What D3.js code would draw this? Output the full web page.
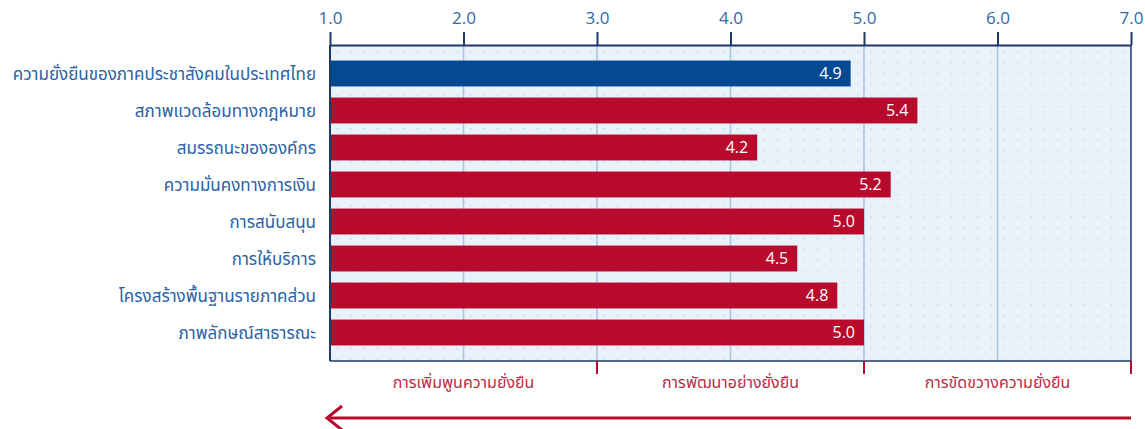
<!DOCTYPE html>
<html>
<head>
<meta charset="utf-8">
<script src="https://cdn.jsdelivr.net/npm/d3@7"></script>
<style>
  body { margin: 0; background: #fff; }
  svg { display: block; font-family: Tahoma, "Noto Sans Thai", "Noto Sans", sans-serif; }
</style>
</head>
<body>
<svg id="chart" width="1145" height="429"></svg>
<script>
// data
const categories = [
  "ความยั่งยืนของภาคประชาสังคมในประเทศไทย",
  "สภาพแวดล้อมทางกฎหมาย",
  "สมรรถนะขององค์กร",
  "ความมั่นคงทางการเงิน",
  "การสนับสนุน",
  "การให้บริการ",
  "โครงสร้างพื้นฐานรายภาคส่วน",
  "ภาพลักษณ์สาธารณะ"
];
const scores = [4.9, 5.4, 4.2, 5.2, 5.0, 4.5, 4.8, 5.0];
const tickValues = [1, 2, 3, 4, 5, 6, 7];
const zoneBreaks = [1, 3, 5, 7];
const zoneLabels = ["การเพิ่มพูนความยั่งยืน", "การพัฒนาอย่างยั่งยืน", "การขัดขวางความยั่งยืน"];

const blue = "#054a91", red = "#b80a2c", navy = "#1f3864";
const plotTop = 45, plotBottom = 361, plotLeft = 330, plotRight = 1131;

const svg = d3.select("#chart");

let x = d3.scaleLinear().domain([1, 7]).range([plotLeft, plotRight]);
let y = d3.scaleBand().domain(categories).range([plotTop, plotBottom])
  .paddingInner(0.3).paddingOuter(0.42);

// dotted background pattern
let step = x(1.1) - x(1);
let defs = svg.append("defs");
let pat = defs.append("pattern")
  .attr("id", "dots")
  .attr("patternUnits", "userSpaceOnUse")
  .attr("x", x(1) + step / 2)
  .attr("y", plotTop + 6)
  .attr("width", step)
  .attr("height", 11);
pat.append("rect").attr("width", step).attr("height", 11).attr("fill", "#e9f1fb");
pat.append("circle").attr("cx", 0.8).attr("cy", 0.8).attr("r", 0.8).attr("fill", "#c3cfdd");

svg.append("rect")
  .attr("x", plotLeft).attr("y", plotTop)
  .attr("width", plotRight - plotLeft).attr("height", plotBottom - plotTop)
  .attr("fill", "url(#dots)");

// vertical gridlines
svg.append("g").selectAll("line")
  .data(tickValues.slice(1, -1))
  .join("line")
  .attr("x1", d => x(d)).attr("x2", d => x(d))
  .attr("y1", plotTop).attr("y2", plotBottom)
  .attr("stroke", "#adc6e2").attr("stroke-width", 1.6);

// top axis
let axis = svg.append("g")
  .attr("transform", `translate(0,${plotTop})`)
  .call(d3.axisTop(x).tickValues(tickValues).tickFormat(d3.format(".1f")).tickSize(13).tickSizeOuter(0));
axis.select(".domain").attr("stroke", navy).attr("stroke-width", 2);
axis.selectAll(".tick line").attr("stroke", navy).attr("stroke-width", 2);
axis.selectAll(".tick text")
  .attr("fill", "#2f6aa6").attr("font-size", 17).attr("dy", "-0.3em")
  .attr("font-family", "'Open Sans', sans-serif");

// frame
svg.append("line").attr("x1", plotLeft).attr("x2", plotLeft).attr("y1", plotTop).attr("y2", plotBottom)
  .attr("stroke", navy).attr("stroke-width", 2);
svg.append("line").attr("x1", plotRight).attr("x2", plotRight).attr("y1", plotTop).attr("y2", plotBottom)
  .attr("stroke", navy).attr("stroke-width", 1.5);
svg.append("line").attr("x1", plotLeft).attr("x2", plotRight).attr("y1", plotBottom).attr("y2", plotBottom)
  .attr("stroke", navy).attr("stroke-width", 1.5);

// bars
svg.append("g").selectAll("rect")
  .data(scores)
  .join("rect")
  .attr("x", x(1) + 1)
  .attr("y", (d, i) => y(categories[i]))
  .attr("width", d => x(d) - x(1) - 1)
  .attr("height", y.bandwidth())
  .attr("fill", (d, i) => i == 0 ? blue : red);

// value labels
svg.append("g").selectAll("text")
  .data(scores)
  .join("text")
  .attr("x", d => x(d) - 9)
  .attr("y", (d, i) => y(categories[i]) + y.bandwidth() / 2)
  .attr("dy", "0.36em")
  .attr("text-anchor", "end")
  .attr("fill", "#fff")
  .attr("font-size", 16)
  .attr("font-family", "'Open Sans', sans-serif")
  .text(d => d.toFixed(1));

// category labels
svg.append("g").selectAll("text")
  .data(categories)
  .join("text")
  .attr("x", 316)
  .attr("y", d => y(d) + y.bandwidth() / 2)
  .attr("dy", "0.36em")
  .attr("text-anchor", "end")
  .attr("fill", "#2a62a4")
  .attr("font-size", 17)
  .text(d => d);

// zone ticks below the plot
svg.append("g").selectAll("line")
  .data(zoneBreaks.slice(1))
  .join("line")
  .attr("x1", d => x(d)).attr("x2", d => x(d))
  .attr("y1", plotBottom).attr("y2", plotBottom + 13)
  .attr("stroke", red).attr("stroke-width", 2);

svg.append("g").selectAll("text")
  .data(zoneLabels)
  .join("text")
  .attr("x", (d, i) => (x(zoneBreaks[i]) + x(zoneBreaks[i + 1])) / 2)
  .attr("y", plotBottom + 21)
  .attr("dy", "0.36em")
  .attr("text-anchor", "middle")
  .attr("fill", "#bb2c45")
  .attr("font-size", 16)
  .text(d => d);

// arrow
svg.append("line")
  .attr("x1", x(1)).attr("x2", x(7))
  .attr("y1", 418).attr("y2", 418)
  .attr("stroke", red).attr("stroke-width", 3);
svg.append("path")
  .attr("d", `M${x(1) + 12},406 L${x(1) - 3},418 L${x(1) + 12},430`)
  .attr("fill", "none").attr("stroke", red).attr("stroke-width", 3);
</script>
</body>
</html>
